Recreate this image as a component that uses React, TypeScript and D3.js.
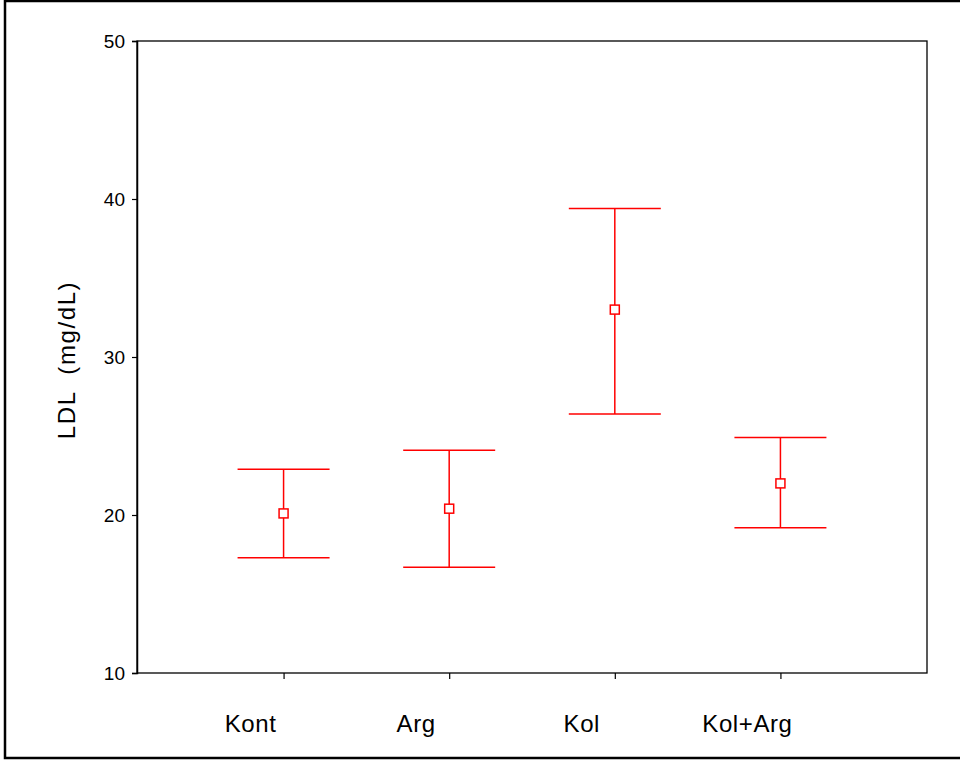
import React, { useEffect, useRef } from 'react'
import * as d3 from 'd3'

const groups = ['Kont', 'Arg', 'Kol', 'Kol+Arg']
const means = [20.1, 20.4, 33.0, 22.0]
const lower = [17.3, 16.7, 26.4, 19.2]
const upper = [22.9, 24.1, 39.4, 24.9]
const yTicks = [10, 20, 30, 40, 50]

const App = () => {
  const ref = useRef<SVGSVGElement | null>(null)

  useEffect(() => {
    if (!ref.current) return
    const width = 960
    const plot = { left: 137, top: 41, right: 927, bottom: 673 }
    const font = 'Arial, "Liberation Sans", sans-serif'
    const red = '#ff0000'

    const svg = d3.select(ref.current)
    svg.selectAll('*').remove()

    svg.append('rect')
        .attr('x', 5)
        .attr('y', 1)
        .attr('width', width + 10)
        .attr('height', 757)
        .attr('fill', 'white')
        .attr('stroke', 'black')
        .attr('stroke-width', 2.5)

    const y = d3.scaleLinear().domain([10, 50]).range([plot.bottom, plot.top])
    const x = d3.scalePoint<string>()
        .domain(groups)
        .range([plot.left, plot.right])
        .padding(0.885)

    // plot frame
    svg.append('rect')
        .attr('x', plot.left)
        .attr('y', plot.top)
        .attr('width', plot.right - plot.left)
        .attr('height', plot.bottom - plot.top)
        .attr('fill', 'none')
        .attr('stroke', 'black')
        .attr('stroke-width', 1.3)

    const yAxis = svg.append('g')
        .attr('transform', `translate(${plot.left},0)`)
        .call(d3.axisLeft(y).tickValues(yTicks).tickSize(5).tickPadding(7).tickFormat(d3.format('d')))
    yAxis.attr('font-size', 19).attr('font-family', font)
    yAxis.select('.domain').attr('stroke-width', 1.5)
    yAxis.selectAll('text').attr('fill', 'black')
    yAxis.selectAll('line').attr('stroke-width', 1.2)

    const xAxis = svg.append('g')
        .attr('transform', `translate(0,${plot.bottom})`)
        .call(d3.axisBottom(x).tickSize(6).tickPadding(0))
    xAxis.select('.domain').remove()
    xAxis.selectAll('text').remove()
    xAxis.selectAll('line').attr('stroke-width', 1.2)

    // category labels sit a little left of their ticks in the original
    const labelShift = -33
    svg.append('g')
        .selectAll('text')
        .data(groups)
        .enter()
        .append('text')
        .attr('x', d => (x(d) as number) + labelShift)
        .attr('y', 732)
        .attr('text-anchor', 'middle')
        .attr('font-family', font)
        .attr('font-size', 24)
        .attr('letter-spacing', 0.6)
        .text(d => d)

    svg.append('text')
        .attr('transform', `translate(75,360) rotate(-90)`)
        .attr('text-anchor', 'middle')
        .attr('font-family', font)
        .attr('font-size', 24)
        .attr('letter-spacing', 1.6)
        .style('white-space', 'pre')
        .text('LDL  (mg/dL)')

    const capHalf = 46
    const bars = svg.append('g')
        .selectAll('g')
        .data(groups.map((g, i) => ({ g, m: means[i], lo: lower[i], hi: upper[i] })))
        .enter()
        .append('g')
        .attr('stroke', red)
        .attr('stroke-width', 1.5)
        .attr('fill', 'none')

    bars.append('line')
        .attr('x1', d => x(d.g) as number)
        .attr('x2', d => x(d.g) as number)
        .attr('y1', d => y(d.hi))
        .attr('y2', d => y(d.lo))
    bars.append('line')
        .attr('x1', d => (x(d.g) as number) - capHalf)
        .attr('x2', d => (x(d.g) as number) + capHalf)
        .attr('y1', d => y(d.hi))
        .attr('y2', d => y(d.hi))
    bars.append('line')
        .attr('x1', d => (x(d.g) as number) - capHalf)
        .attr('x2', d => (x(d.g) as number) + capHalf)
        .attr('y1', d => y(d.lo))
        .attr('y2', d => y(d.lo))
    bars.append('rect')
        .attr('x', d => (x(d.g) as number) - 4.5)
        .attr('y', d => y(d.m) - 4.5)
        .attr('width', 9)
        .attr('height', 9)
        .attr('fill', 'white')
  }, [])

  return (
      <svg
          ref={ref}
          width={960}
          height={760}
          style={{ position: 'absolute', left: 0, top: 0, display: 'block' }}
      />
  )
}

export default App
